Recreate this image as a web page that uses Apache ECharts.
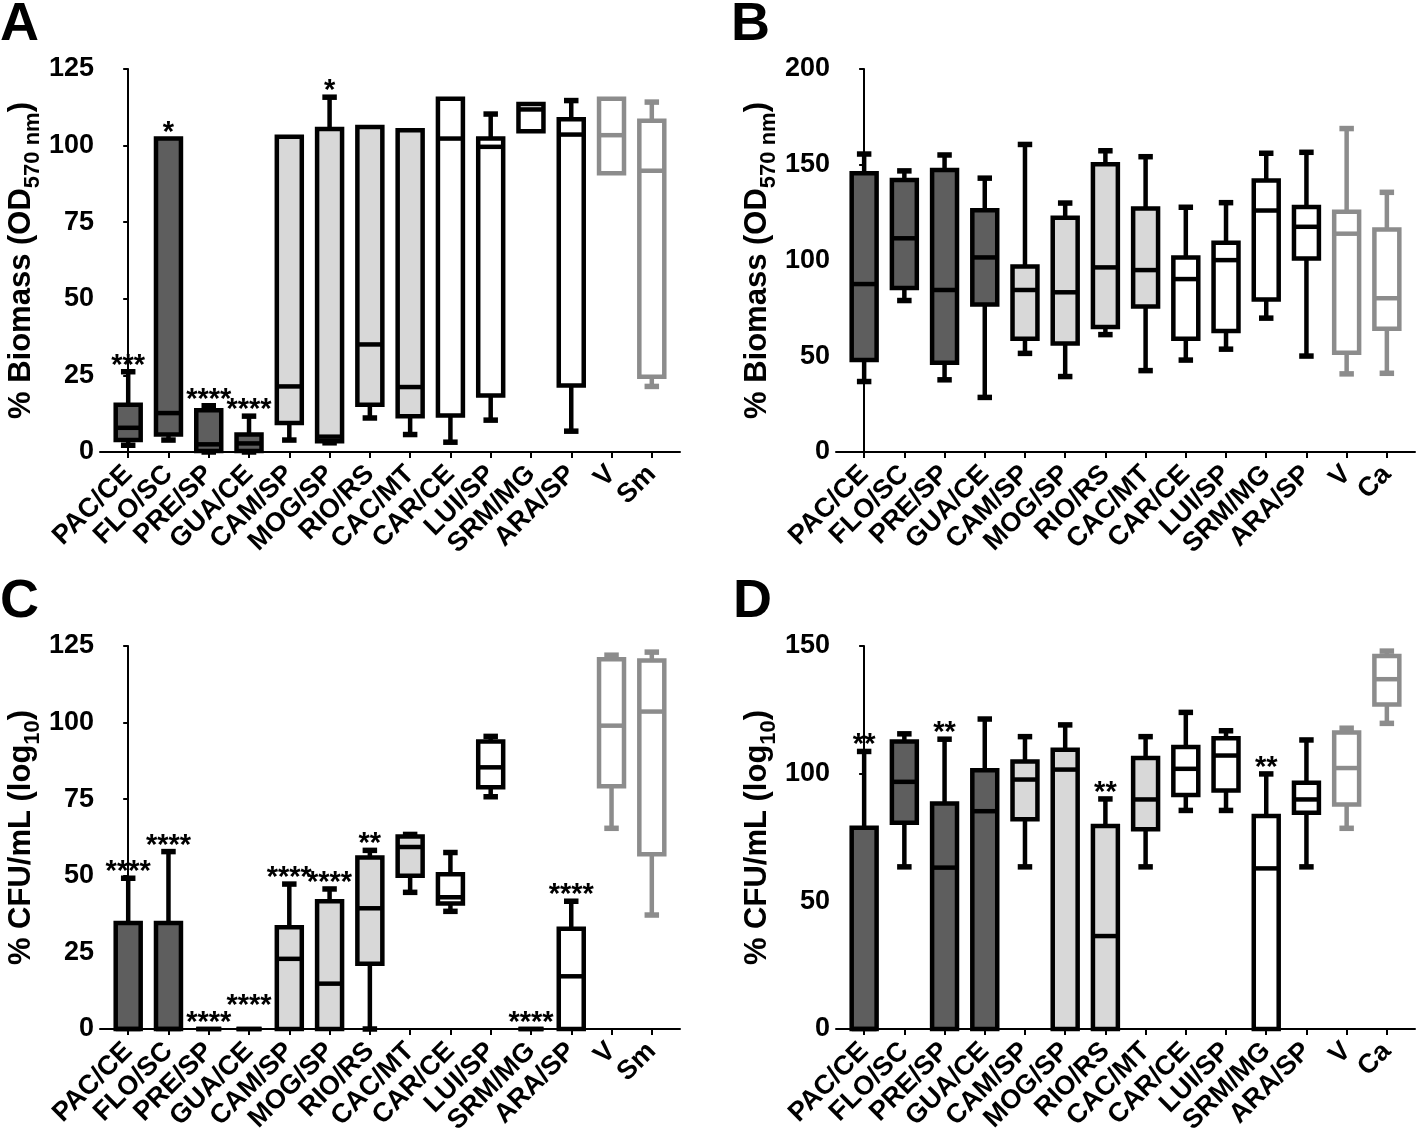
<!DOCTYPE html>
<html>
<head>
<meta charset="utf-8">
<script src="https://cdn.jsdelivr.net/npm/echarts@6/dist/echarts.min.js"></script>
<style>
  html, body { margin: 0; padding: 0; background: #fff; }
  #chart { width: 1418px; height: 1138px; }
</style>
</head>
<body>
<div id="chart"></div>
<script>
// categories
const catsAC = ['PAC/CE', 'FLO/SC', 'PRE/SP', 'GUA/CE', 'CAM/SP', 'MOG/SP', 'RIO/RS',
  'CAC/MT', 'CAR/CE', 'LUI/SP', 'SRM/MG', 'ARA/SP', 'V', 'Sm'];
const catsBD = ['PAC/CE', 'FLO/SC', 'PRE/SP', 'GUA/CE', 'CAM/SP', 'MOG/SP', 'RIO/RS',
  'CAC/MT', 'CAR/CE', 'LUI/SP', 'SRM/MG', 'ARA/SP', 'V', 'Ca'];

// each box: [min, q1, median, q3, max]
const boxA = [
  [2.2, 3.9, 7.9, 15.4, 26.2],
  [3.9, 5.7, 12.7, 102.3, 102.3],
  [0, 0.3, 2.5, 13.6, 15.1],
  [0, 0.3, 2.8, 5.7, 11.7],
  [3.9, 9.5, 21.4, 102.9, 102.9],
  [3, 3.5, 5, 105.4, 115.8],
  [11.1, 15.4, 35.1, 106.1, 106.1],
  [5.7, 11.7, 21.2, 105, 105],
  [3.2, 11.9, 102.3, 115.3, 115.3],
  [10.4, 18.4, 99.6, 102.3, 110.3],
  [104.7, 104.7, 111.8, 113.6, 113.6],
  [6.8, 21.7, 103.6, 108.6, 114.7],
  [91, 91, 103.4, 115.3, 115.3],
  [21.4, 24.6, 91.8, 108.1, 114.2]
];
const boxB = [
  [36.8, 48, 87.7, 145.6, 155.6],
  [79.1, 85.7, 111.6, 142.1, 146.8],
  [37.7, 46.6, 84.6, 147.3, 155.1],
  [28.5, 77, 101.6, 126.3, 143],
  [51.5, 59.2, 84.6, 96.9, 160.6],
  [39.4, 56.6, 83.4, 122.3, 130],
  [61.3, 65.3, 96.4, 150.3, 157.3],
  [42.5, 76, 95, 127.1, 154.2],
  [48, 59.2, 90.3, 101.6, 127.8],
  [53.7, 63.2, 100.2, 109.3, 130.2],
  [69.9, 79.6, 126.1, 141.8, 156],
  [50.1, 101, 117.6, 128, 156.5],
  [40.8, 51.8, 114, 125.4, 168.9],
  [41.1, 64.4, 80.3, 116.2, 135.6]
];
const boxC = [
  [0, 0, 0, 34.6, 49.2],
  [0, 0, 0, 34.6, 57.9],
  [0, 0, 0, 0, 0],
  [0, 0, 0, 0, 0],
  [0, 0, 22.9, 33.2, 47.3],
  [0, 0, 14.8, 41.7, 45.7],
  [0, 21.3, 39.4, 56, 58.3],
  [44.6, 50, 59.4, 62.8, 63.5],
  [38.4, 41, 43, 50.5, 57.6],
  [75.8, 78.9, 85.4, 93.8, 95.5],
  [0, 0, 0, 0, 0],
  [0, 0, 17.2, 32.7, 41.7],
  [65.5, 79.2, 99, 120.7, 122],
  [37.2, 57, 103.6, 120.3, 123]
];
const boxD = [
  [0, 0, 0, 78.8, 108.7],
  [63.5, 80.8, 96.8, 112.6, 115.6],
  [0, 0, 63.2, 88.3, 113.5],
  [0, 0, 85.3, 101.3, 121.4],
  [63.5, 82.1, 97.7, 104.8, 114.5],
  [0, 0, 101.6, 109.4, 119.1],
  [0, 0, 36.4, 79.5, 90.1],
  [63.5, 78.2, 89.9, 106.1, 114.5],
  [85.6, 91.6, 101.9, 110.4, 124],
  [85.6, 93.4, 107.1, 113.9, 116.8],
  [0, 0, 62.9, 83.4, 99.9],
  [63.5, 84.7, 89.9, 96.4, 113.2],
  [78.6, 87.9, 102.2, 116.1, 117.8],
  [119.7, 127.1, 137, 146.1, 148]
];

// significance marks
const starsA = ['***', '*', '****', '****', '', '*', '', '', '', '', '', '', '', ''];
const starsB = ['', '', '', '', '', '', '', '', '', '', '', '', '', ''];
const starsC = ['****', '****', '****', '****', '****', '****', '**', '', '', '', '****', '****', '', ''];
const starsD = ['**', '', '**', '', '', '', '**', '', '', '', '**', '', '', ''];

// y axis ranges
const yMaxA = 125, yStepA = 25;
const yMaxB = 200, yStepB = 50;
const yMaxC = 125, yStepC = 25;
const yMaxD = 150, yStepD = 50;

// colour group of each category: 0 dark, 1 light, 2 white, 3 grey outline
const groupOf = [0, 0, 0, 0, 1, 1, 1, 1, 2, 2, 2, 2, 3, 3];
const fills = ['#5e5e5e', '#d8d8d8', '#ffffff', '#ffffff'];
const strokes = ['#000000', '#000000', '#000000', '#8c8c8c'];

const FONT = "'Liberation Sans', Arial, Helvetica, sans-serif";
const tickIdx = catsAC.map((c, i) => i);

function boxSeries(idx, boxes, stars) {
  return {
    type: 'custom',
    xAxisIndex: idx,
    yAxisIndex: idx,
    data: boxes.map((b, i) => [i].concat(b)),
    encode: { x: 0, y: [1, 2, 3, 4, 5] },
    renderItem: function (params, api) {
      const i = api.value(0);
      const g = groupOf[i];
      const band = api.size([1, 0])[0];
      const hb = band * 0.31, hc = band * 0.18;
      const vMin = api.value(1), vQ1 = api.value(2), vMed = api.value(3),
        vQ3 = api.value(4), vMax = api.value(5);
      const x = api.coord([i, 0])[0];
      const y = v => api.coord([i, v])[1];
      const st = { stroke: strokes[g], lineWidth: 4.5 };
      const cap = { stroke: strokes[g], lineWidth: 5.5 };
      const kids = [];
      if (vMax > vQ3) {
        kids.push({ type: 'line', shape: { x1: x, y1: y(vQ3), x2: x, y2: y(vMax) }, style: st });
        kids.push({ type: 'line', shape: { x1: x - hc, y1: y(vMax), x2: x + hc, y2: y(vMax) }, style: cap });
      }
      if (vMin < vQ1) {
        kids.push({ type: 'line', shape: { x1: x, y1: y(vQ1), x2: x, y2: y(vMin) }, style: st });
        kids.push({ type: 'line', shape: { x1: x - hc, y1: y(vMin), x2: x + hc, y2: y(vMin) }, style: cap });
      }
      kids.push({ type: 'rect', shape: { x: x - hb, y: y(vQ3), width: hb * 2, height: y(vQ1) - y(vQ3) },
        style: { fill: fills[g], stroke: strokes[g], lineWidth: 4.5 } });
      kids.push({ type: 'line', shape: { x1: x - hb, y1: y(vMed), x2: x + hb, y2: y(vMed) }, style: st });
      if (stars[i]) {
        const top = y(Math.max(vQ3, vMax));
        let lift = 0;
        if (i > 0 && stars[i - 1]) {
          const prev = boxes[i - 1];
          const prevTop = api.coord([i - 1, Math.max(prev[3], prev[4])])[1];
          if (Math.abs(prevTop - top) < 3) lift = 17;
        }
        kids.push({ type: 'text', style: { text: stars[i], x: x, y: top - 6 - lift,
          align: 'center', verticalAlign: 'middle', font: 'bold 29px ' + FONT, fill: '#000' } });
      }
      return { type: 'group', children: kids };
    }
  };
}

function xAxisFor(idx, cats) {
  return {
    type: 'value', gridIndex: idx, min: -0.7, max: 13.7,
    splitLine: { show: false },
    axisLine: { show: true, lineStyle: { color: '#000', width: 2 } },
    axisTick: { show: true, customValues: tickIdx, length: 6, lineStyle: { color: '#000', width: 2 } },
    axisLabel: {
      customValues: tickIdx, rotate: 45, margin: 18,
      fontSize: 27, fontWeight: 'bold', fontFamily: FONT, color: '#000',
      formatter: v => cats[Math.round(v)]
    }
  };
}

function yAxisFor(idx, maxV, step, name) {
  return {
    type: 'value', gridIndex: idx, min: 0, max: maxV, interval: step,
    splitLine: { show: false },
    axisLine: { show: true, lineStyle: { color: '#000', width: 2 } },
    axisTick: { show: true, length: 5, lineStyle: { color: '#000', width: 2 } },
    axisLabel: { margin: 6, fontSize: 27, fontWeight: 'bold', fontFamily: FONT, color: '#000' },
    name: name, nameLocation: 'middle', nameRotate: 90, nameGap: 56,
    nameTextStyle: {
      rich: {
        m: { fontSize: 31, fontWeight: 'bold', fontFamily: FONT, color: '#000',
          verticalAlign: 'bottom', padding: [0, 0, 7, 0] },
        s: { fontSize: 22, fontWeight: 'bold', fontFamily: FONT, color: '#000',
          verticalAlign: 'bottom' }
      }
    }
  };
}

const titleBio = '{m|% Biomass (OD}{s|570 nm}{m|)}';
const titleCfu = '{m|% CFU/mL (log}{s|10}{m|)}';

const panelLetter = (t, x, y) => ({
  type: 'text', x: x, y: y,
  style: { text: t, font: 'bold 54px ' + FONT, fill: '#000', align: 'left', verticalAlign: 'middle' }
});

const chart = echarts.init(document.getElementById('chart'));
chart.setOption({
  animation: false,
  backgroundColor: '#fff',
  grid: [
    { left: 100, top: 69, width: 580, height: 383 },
    { left: 836, top: 69, width: 579, height: 383 },
    { left: 100, top: 646, width: 580, height: 383 },
    { left: 836, top: 646, width: 579, height: 383 }
  ],
  xAxis: [xAxisFor(0, catsAC), xAxisFor(1, catsBD), xAxisFor(2, catsAC), xAxisFor(3, catsBD)],
  yAxis: [
    yAxisFor(0, yMaxA, yStepA, titleBio),
    yAxisFor(1, yMaxB, yStepB, titleBio),
    yAxisFor(2, yMaxC, yStepC, titleCfu),
    yAxisFor(3, yMaxD, yStepD, titleCfu)
  ],
  graphic: [
    panelLetter('A', 0, 25),
    panelLetter('B', 731, 25),
    panelLetter('C', 0, 602),
    panelLetter('D', 733, 602)
  ],
  series: [
    boxSeries(0, boxA, starsA),
    boxSeries(1, boxB, starsB),
    boxSeries(2, boxC, starsC),
    boxSeries(3, boxD, starsD)
  ]
});
</script>
</body>
</html>
